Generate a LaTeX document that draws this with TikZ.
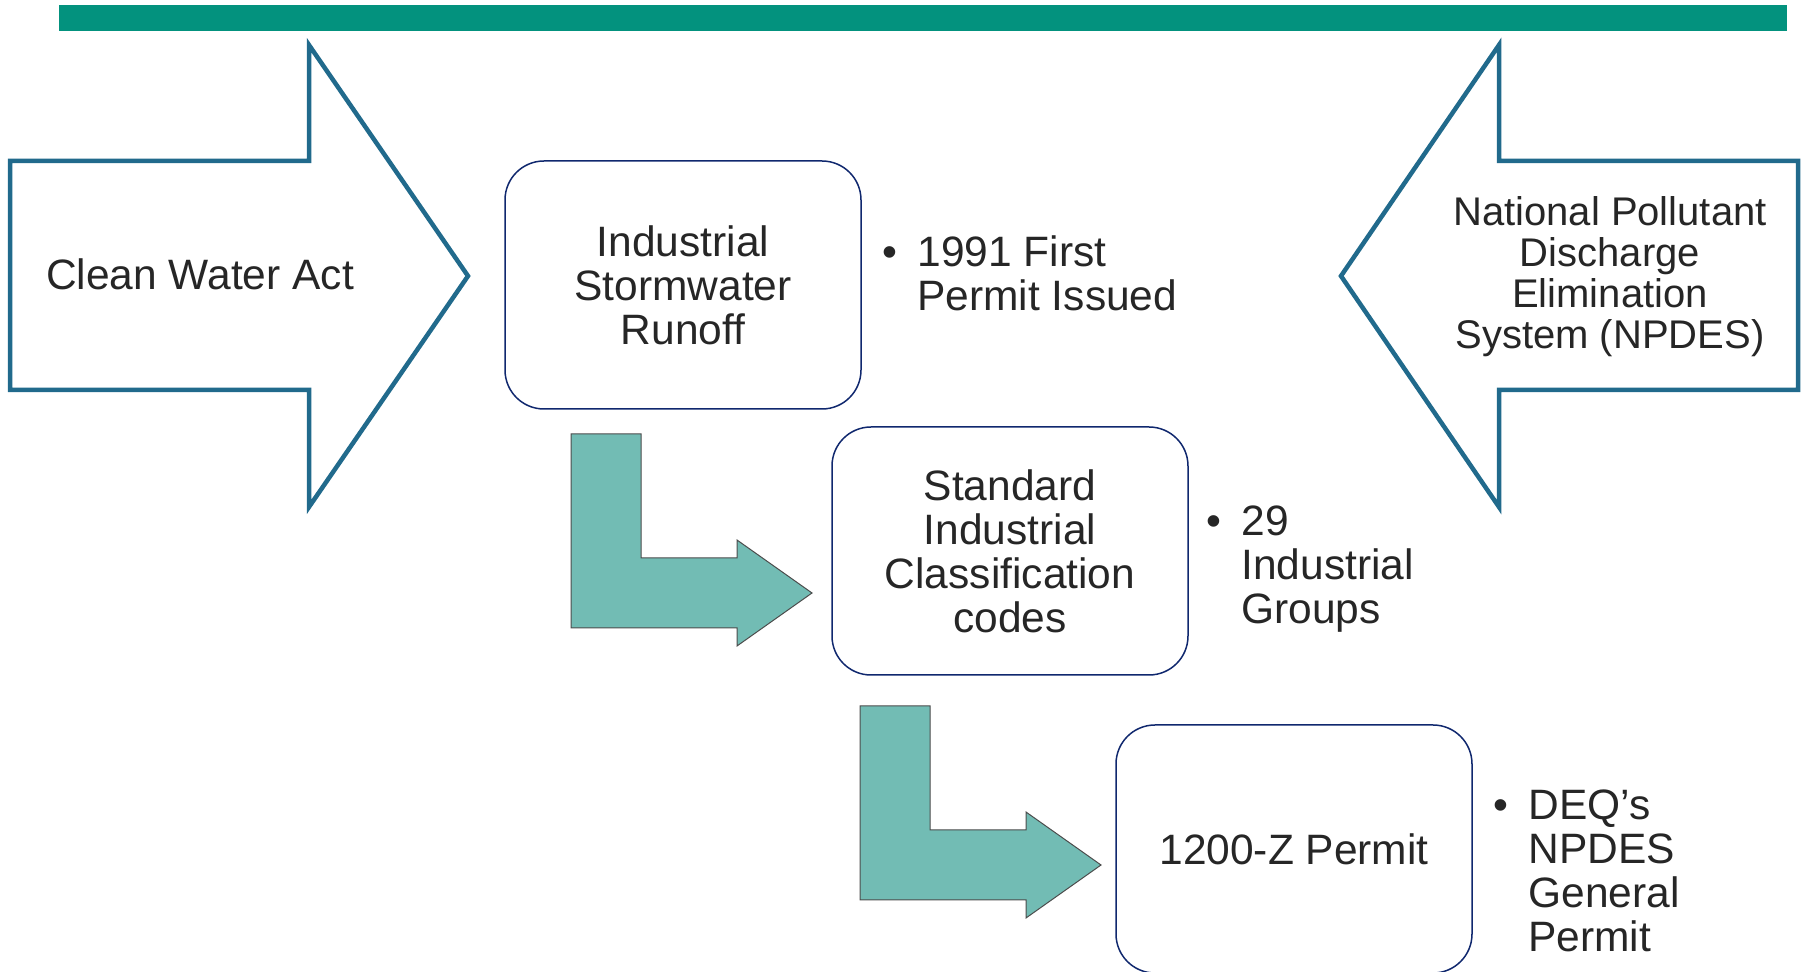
\documentclass[tikz,border=0pt]{standalone}
\usepackage{fontspec}
\setmainfont{Liberation Sans}

\definecolor{barteal}{RGB}{3,146,126}
\definecolor{arrowblue}{RGB}{33,106,140}
\definecolor{boxnavy}{RGB}{16,40,110}
\definecolor{bendteal}{RGB}{114,188,180}
\definecolor{textgray}{RGB}{38,38,38}

\newcommand{\bodysize}{\fontsize{21.25pt}{22pt}\selectfont}
\newcommand{\npdessize}{\fontsize{20pt}{20.5pt}\selectfont}

\tikzset{
    bigarrow/.style={draw=arrowblue, line width=2.25pt, fill=white},
    stepbox/.style={draw=boxnavy, line width=0.75pt, rounded corners=19.5pt,
        minimum width=178pt, minimum height=124pt, inner sep=0pt,
        align=center, font=\bodysize},
    bendarrow/.style={fill=bendteal, draw=black!70, line width=0.5pt},
    note/.style={anchor=north west, align=left, inner sep=0pt, font=\bodysize},
}

\begin{document}
\begin{tikzpicture}[x=0.5pt, y=-0.5pt, every node/.append style={text=textgray}]
    \useasboundingbox (0,0) rectangle (1806,972);

    % --- top bar ---
    \fill[barteal] (59,5) rectangle (1787,31);

    % --- outer arrows: Clean Water Act and NPDES ---
    \draw[bigarrow] (10,161) -- (309,161) -- (309,45) -- (468,276) -- (309,507) -- (309,390) -- (10,390) -- cycle;
    \draw[bigarrow] (1798,161) -- (1499,161) -- (1499,45) -- (1341,276) -- (1499,507) -- (1499,390) -- (1798,390) -- cycle;
    \node[font=\bodysize] (cwa) at (200,274) {Clean Water Act};
    \node[font=\npdessize, align=center] (npdes) at (1610,277) {National Pollutant\\Discharge\\Elimination\\System (NPDES)};

    % --- the three steps ---
    \node[stepbox] (runoff) at (683,285) {Industrial\\Stormwater\\Runoff};
    \node[stepbox] (sic) at (1010,551) {Standard\\Industrial\\Classification\\codes};
    \node[stepbox] (permit) at (1294,849) {1200-Z Permit};

    % bent arrows, second one shifted down the steps
    \foreach \dx/\dy in {0/0, 289/272}
        \draw[bendarrow, shift={(\dx,\dy)}] (571,434) -- (641,434) -- (641,558) -- (737,558) -- (737,540)
            -- (812,593) -- (737,646) -- (737,628) -- (571,628) -- cycle;

    % --- notes beside each step ---
    \node[note] (firstpermit) at (917,235) {\llap{\textbullet\hspace{10pt}}1991 First\\Permit Issued};
    \node[note] (groups) at (1241,505) {\llap{\textbullet\hspace{10pt}}29\\Industrial\\Groups};
    \node[note] (general) at (1528,789) {\llap{\textbullet\hspace{10pt}}DEQ’s\\NPDES\\General\\Permit};
\end{tikzpicture}
\end{document}
